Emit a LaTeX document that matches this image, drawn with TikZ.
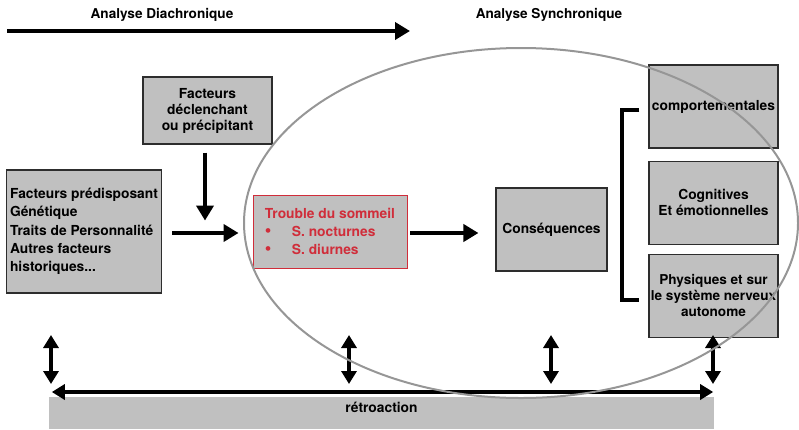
\documentclass[tikz,border=0pt]{standalone}
\usepackage{fontspec}
\setmainfont{TeX Gyre Heros}
\usepackage{tikz}
\usetikzlibrary{arrows.meta,positioning}
\usepackage{xcolor}
\definecolor{boxgrey}{RGB}{192,192,192}
\definecolor{edgegrey}{RGB}{45,45,45}
\definecolor{troublered}{RGB}{208,45,58}
\definecolor{ringgrey}{RGB}{150,150,150}
\newcommand{\bulletitem}[1]{\makebox[27pt][l]{\raisebox{-0.3pt}{\scalebox{1.35}{•}}}#1}

\begin{document}
\begin{tikzpicture}[x=1pt,y=-1pt,
    box/.style={draw=edgegrey,fill=boxgrey,line width=1.1pt,inner sep=2pt,align=center,
      minimum width=129pt,minimum height=83pt,
      font=\bfseries\fontsize{13.8}{16.5}\selectfont},
    heading/.style={anchor=base,font=\bfseries\fontsize{13.6}{16}\selectfont},
    bigarrow/.style={line width=4.5pt,-{Triangle[length=15pt,width=17pt]}},
    dblarrow/.style={line width=3.5pt,
      {Triangle[length=13pt,width=15pt]}-{Triangle[length=13pt,width=15pt]}}]

  \useasboundingbox (0,0) rectangle (799,429);

  % headings and time arrow
  \node[heading] (diachro) at (162,18.5) {Analyse Diachronique};
  \node[heading] (synchro) at (549,18) {Analyse Synchronique};
  \coordinate (diaL) at (7,31);
  \coordinate (diaR) at (410,31);
  \draw[bigarrow] (diaL) -- (diaR);

  % boxes
  \node[box,minimum height=67pt,font=\bfseries\fontsize{13.8}{16}\selectfont]
    (declench) at (207.5,110.5) {Facteurs\\déclenchant\\ou précipitant};
  \node[box,align=left,minimum width=154pt,minimum height=123pt,inner sep=4pt,
    font=\bfseries\fontsize{13.8}{18.3}\selectfont]
    (predisp) at (84,231.5) {Facteurs prédisposant\\Génétique\\Traits de Personnalité\\Autres facteurs\\historiques...};
  \node[box,draw=troublered,line width=0.9pt,text=troublered,align=left,
    minimum width=154pt,minimum height=73pt,
    font=\bfseries\fontsize{13.8}{18}\selectfont]
    (trouble) at (330,231.5) {Trouble du sommeil\\\bulletitem{S. nocturnes}\\\bulletitem{S. diurnes}};
  \node[box,minimum width=111pt] (conseq) at (551.5,229.5) {Conséquences};
  \node[box] (comport) at (713.5,106.5) {comportementales};
  \node[box,below=12pt of comport] (cognit) {Cognitives\\Et émotionnelles};
  \node[box,below=9pt of cognit,inner sep=0pt,font=\bfseries\fontsize{13.6}{16}\selectfont]
    (physiq) {Physiques et sur\\le système nerveux\\autonome};
  \node[fill=boxgrey,anchor=north,minimum width=665pt,inner sep=0pt,
    text height=15pt,text depth=17pt,font=\bfseries\fontsize{13.8}{16}\selectfont]
    (retro) at (381.5,397) {rétroaction};

  % connectors
  \draw[bigarrow] ([xshift=-2.5pt,yshift=-8pt]declench.south) -- ++(0,68);
  \draw[bigarrow] ([xshift=10pt,yshift=-1.5pt]predisp.east)
    -- ([xshift=-14pt,yshift=-1.5pt]trouble.west);
  \draw[bigarrow] ([xshift=3pt,yshift=-1.5pt]trouble.east)
    -- ([xshift=-17pt,yshift=-3.5pt]conseq.west);

  % bracket
  \draw[line width=4pt] ([xshift=-9pt,yshift=-3pt]comport.west) -- ++(-17,0)
    |- ([xshift=-9pt,yshift=-4.5pt]physiq.west);

  % feedback
  \foreach \x [count=\i] in {51,349,551,713}{
    \coordinate (fbtop\i) at (\x,335);
    \coordinate (fbbot\i) at (\x,384);
    \draw[dblarrow] (fbtop\i) -- (fbbot\i);
  }
  \draw[dblarrow] ([xshift=3pt,yshift=5pt]retro.north west)
    -- ([xshift=-1pt,yshift=5pt]retro.north east);

  % synchronic field
  \draw[ringgrey,line width=2pt] (521,223) ellipse [x radius=277pt,y radius=175pt];
\end{tikzpicture}
\end{document}
